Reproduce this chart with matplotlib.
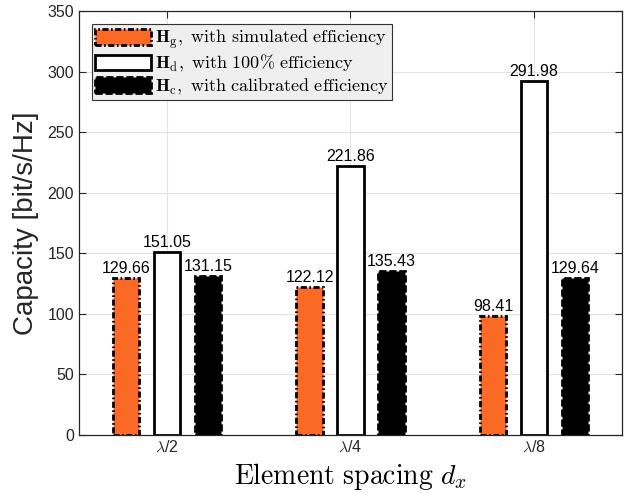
import numpy as np
import matplotlib.pyplot as plt

plt.rcParams['font.family'] = ['Liberation Sans', 'DejaVu Sans']
plt.rcParams['mathtext.fontset'] = 'cm'

# capacity per element spacing
spacings = [r'$\lambda$/2', r'$\lambda$/4', r'$\lambda$/8']
cap_g = [129.66, 122.12, 98.41]   # simulated efficiency
cap_d = [151.05, 221.86, 291.98]  # 100% efficiency
cap_c = [131.15, 135.43, 129.64]  # calibrated efficiency

legend_labels = [
    r'$\mathbf{H}_{\mathrm{g}}\mathrm{,\ with\ simulated\ efficiency}$',
    r'$\mathbf{H}_{\mathrm{d}}\mathrm{,\ with\ 100\%\ efficiency}$',
    r'$\mathbf{H}_{\mathrm{c}}\mathrm{,\ with\ calibrated\ efficiency}$',
]

x = np.arange(1, len(spacings) + 1)
off = 0.223
w = 0.144

fig = plt.figure(figsize=(6.32, 4.93), dpi=100)
ax = fig.add_axes([0.125, 0.1176, 0.859, 0.8601])

b1 = ax.bar(x - off, cap_g, w, color='#fb6a25', edgecolor='black',
            linewidth=2, linestyle=(0, (2.2, 0.9, 0.6, 0.9)),
            label=legend_labels[0], zorder=3)
b2 = ax.bar(x, cap_d, w, color='white', edgecolor='black',
            linewidth=2, linestyle='-', label=legend_labels[1], zorder=3)
b3 = ax.bar(x + off, cap_c, w, color='black', edgecolor='black',
            linewidth=2, linestyle=(0, (2.6, 1.0)),
            label=legend_labels[2], zorder=3)

for bars, vals in [(b1, cap_g), (b2, cap_d), (b3, cap_c)]:
    for rect, v in zip(bars, vals):
        ax.annotate('%.2f' % v, (rect.get_x() + rect.get_width() / 2, v),
                    xytext=(0, 1.5), textcoords='offset points',
                    ha='center', va='bottom', fontsize=11.5, zorder=4)

ax.set_xlim(0.52, 3.48)
ax.set_ylim(0, 350)
ax.set_yticks(np.arange(0, 351, 50))
ax.set_xticks(x)
ax.set_xticklabels(spacings)

ax.grid(True, color='#e3e3e3', linewidth=0.8, zorder=0)
ax.set_axisbelow(True)
ax.tick_params(direction='in', top=True, right=True, length=5,
               labelsize=11.5, colors='0.15', width=0.8)
for s in ax.spines.values():
    s.set_color('0.15')
    s.set_linewidth(0.9)

ax.set_ylabel('Capacity [bit/s/Hz]', fontsize=20, color='0.15', labelpad=6)
ax.set_xlabel(r'$\mathrm{Element\ spacing}\ d_x$', fontsize=20, labelpad=4)

leg = ax.legend(loc='upper left', fontsize=13, handlelength=3.1,
                handleheight=0.95, handletextpad=0.2, labelspacing=0.12,
                borderpad=0.2, borderaxespad=0.7, fancybox=False,
                framealpha=1, facecolor='#efefef', edgecolor='0.2')
leg.get_frame().set_linewidth(0.8)

fig.savefig('out.png', dpi=100)
